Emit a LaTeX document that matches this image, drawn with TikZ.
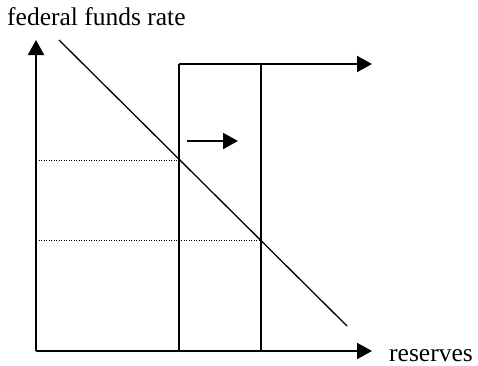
\documentclass[tikz,border=0pt]{standalone}
\usepackage{fontspec}
\setmainfont{Liberation Serif}
\usetikzlibrary{arrows.meta}
\begin{document}
\begin{tikzpicture}[x=1pt,y=1pt,
  axisline/.style={line width=2pt,-{Triangle[length=15pt,width=16pt]}},
  bar/.style={line width=1.8pt},
  demand/.style={line width=1.3pt},
  guide/.style={line width=1pt,dash pattern=on 1pt off 1.5pt},
  lbl/.style={inner sep=0pt,anchor=base west,font=\fontsize{25.5}{30}\selectfont}]
\useasboundingbox (0,0) rectangle (478,365);
\coordinate (O) at (36,14);
\coordinate (Ytip) at (36,325);
\coordinate (Xtip) at (372,14);
\coordinate (A) at (179,301);
\coordinate (B) at (261,301);
\coordinate (Ttip) at (372,301);
\coordinate (A0) at (179,14);
\coordinate (B0) at (261,14);
\coordinate (D1) at (59,325);
\coordinate (D2) at (347,39);
\coordinate (P1) at (179,205);
\coordinate (P1y) at (36,205);
\coordinate (P2) at (261,125);
\coordinate (P2y) at (36,125);
\coordinate (S1) at (187,224);
\coordinate (S2) at (238,224);
\node[lbl] (ylabel) at (7,339) {federal funds rate};
\node[lbl] (xlabel) at (389,4) {reserves};
\draw[axisline] (O) -- (Ytip);
\draw[axisline] (O) -- (Xtip);
\draw[bar] (A0) -- (A);
\draw[bar] (B0) -- (B);
\draw[axisline] (A) -- (Ttip);
\draw[demand] (D1) -- (D2);
\draw[guide] (P1y) -- (P1);
\draw[guide] (P2y) -- (P2);
\draw[axisline] (S1) -- (S2);
\end{tikzpicture}
\end{document}
